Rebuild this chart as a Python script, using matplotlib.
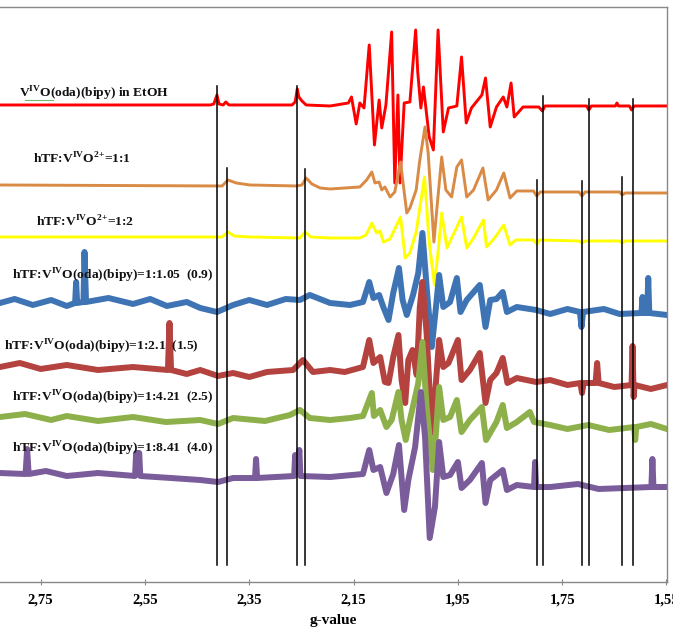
import matplotlib
matplotlib.use("Agg")
import matplotlib.pyplot as plt

plt.rcParams["font.family"] = ["Liberation Serif", "DejaVu Serif"]
plt.rcParams["mathtext.fontset"] = "custom"
plt.rcParams["mathtext.rm"] = "Liberation Serif:bold"
plt.rcParams["mathtext.bf"] = "Liberation Serif:bold"

# EPR spectra, (g-value, intensity a.u.)
red = [(2.828, 477), (2.425, 477), (2.418, 478), (2.412, 487), (2.408, 478), (2.400, 477),
       (2.395, 480), (2.389, 477), (2.268, 477), (2.262, 480), (2.258, 493), (2.255, 485),
       (2.249, 481), (2.241, 477), (2.195, 476), (2.160, 479), (2.154, 485), (2.145, 458),
       (2.138, 479), (2.130, 474), (2.120, 537), (2.110, 437), (2.101, 482), (2.096, 454),
       (2.088, 477), (2.077, 550), (2.071, 399), (2.065, 487), (2.061, 399), (2.053, 479),
       (2.042, 480), (2.031, 552), (2.027, 510), (2.021, 474), (2.016, 495), (2.005, 445),
       (1.997, 432), (1.988, 552), (1.978, 450), (1.968, 474), (1.952, 476), (1.943, 525),
       (1.934, 459), (1.924, 474), (1.904, 487), (1.897, 504), (1.888, 455), (1.876, 475),
       (1.863, 485), (1.856, 475), (1.848, 499), (1.842, 465), (1.825, 475), (1.795, 475),
       (1.788, 471), (1.783, 476), (1.703, 476), (1.699, 472), (1.694, 476), (1.648, 476),
       (1.645, 479), (1.642, 476), (1.621, 476), (1.617, 472), (1.612, 476), (1.549, 476)]

orange = [(2.828, 397), (2.402, 396), (2.391, 402), (2.375, 399), (2.349, 397), (2.259, 396),
          (2.249, 397), (2.241, 404), (2.230, 398), (2.214, 394), (2.195, 393), (2.138, 395),
          (2.125, 402), (2.115, 410), (2.109, 399), (2.101, 400), (2.096, 392), (2.090, 395),
          (2.080, 385), (2.071, 390), (2.060, 420), (2.048, 369), (2.042, 374), (2.030, 392),
          (2.023, 422), (2.013, 455), (2.007, 429), (1.996, 340), (1.990, 375), (1.981, 425),
          (1.973, 392), (1.962, 385), (1.952, 415), (1.943, 422), (1.933, 385), (1.920, 392),
          (1.902, 414), (1.892, 382), (1.876, 392), (1.862, 409), (1.850, 384), (1.837, 391),
          (1.805, 391), (1.799, 386), (1.792, 390), (1.718, 390), (1.712, 386), (1.706, 390),
          (1.640, 390), (1.635, 387), (1.629, 389), (1.549, 389)]

yellow = [(2.828, 345), (2.402, 345), (2.391, 350), (2.379, 346), (2.349, 345), (2.253, 344),
          (2.243, 350), (2.232, 345), (2.195, 344), (2.138, 344), (2.126, 347), (2.115, 359),
          (2.106, 349), (2.099, 351), (2.093, 340), (2.080, 343), (2.060, 365), (2.051, 324),
          (2.042, 329), (2.030, 350), (2.014, 405), (2.005, 340), (1.995, 297), (1.988, 330),
          (1.981, 369), (1.971, 334), (1.961, 345), (1.943, 365), (1.933, 334), (1.921, 343),
          (1.901, 362), (1.895, 335), (1.881, 343), (1.862, 357), (1.850, 337), (1.839, 342),
          (1.805, 342), (1.799, 338), (1.793, 342), (1.718, 341), (1.712, 339), (1.706, 341),
          (1.640, 341), (1.635, 339), (1.629, 341), (1.549, 341)]

blue = [(2.828, 279), (2.800, 283), (2.765, 277), (2.730, 282), (2.700, 276), (2.684, 279),
        (2.682, 300), (2.680, 279), (2.668, 280), (2.666, 330), (2.663, 280), (2.620, 284),
        (2.573, 278), (2.540, 283), (2.508, 276), (2.470, 280), (2.444, 274), (2.412, 270),
        (2.381, 277), (2.350, 282), (2.316, 277), (2.280, 283), (2.253, 282), (2.234, 287),
        (2.195, 279), (2.157, 277), (2.132, 280), (2.120, 300), (2.112, 284), (2.101, 287),
        (2.093, 275), (2.083, 262), (2.074, 289), (2.063, 314), (2.056, 282), (2.048, 267),
        (2.036, 287), (2.026, 309), (2.018, 349), (2.009, 289), (2.000, 235), (1.992, 275),
        (1.986, 307), (1.978, 275), (1.965, 280), (1.952, 304), (1.945, 270), (1.933, 282),
        (1.908, 297), (1.897, 255), (1.888, 282), (1.876, 283), (1.864, 290), (1.856, 270),
        (1.837, 275), (1.800, 272), (1.773, 268), (1.740, 273), (1.716, 270), (1.713, 255),
        (1.710, 270), (1.670, 273), (1.640, 268), (1.598, 269), (1.596, 285), (1.594, 269),
        (1.587, 269), (1.585, 304), (1.583, 269), (1.549, 267)]

brown = [(2.828, 215), (2.790, 219), (2.750, 213), (2.700, 217), (2.640, 212), (2.573, 215),
         (2.506, 212), (2.503, 259), (2.500, 212), (2.470, 208), (2.444, 212), (2.410, 206),
         (2.381, 209), (2.350, 205), (2.316, 210), (2.266, 212), (2.247, 222), (2.228, 210),
         (2.195, 212), (2.167, 210), (2.132, 215), (2.120, 242), (2.112, 219), (2.099, 225),
         (2.090, 200), (2.083, 199), (2.074, 225), (2.064, 247), (2.058, 202), (2.051, 179),
         (2.045, 222), (2.037, 232), (2.029, 207), (2.023, 275), (2.018, 300), (2.010, 249),
         (2.000, 149), (1.994, 186), (1.986, 242), (1.978, 215), (1.968, 219), (1.950, 242),
         (1.943, 202), (1.927, 212), (1.908, 229), (1.897, 179), (1.888, 202), (1.876, 209),
         (1.864, 224), (1.855, 199), (1.837, 204), (1.800, 200), (1.773, 202), (1.740, 197),
         (1.715, 199), (1.712, 189), (1.709, 199), (1.686, 199), (1.683, 219), (1.680, 199),
         (1.650, 195), (1.617, 197), (1.615, 236), (1.613, 185), (1.611, 197), (1.580, 193),
         (1.549, 197)]

green = [(2.828, 165), (2.780, 168), (2.730, 162), (2.700, 166), (2.640, 161), (2.573, 165),
         (2.510, 160), (2.444, 162), (2.410, 158), (2.381, 164), (2.320, 161), (2.272, 167),
         (2.253, 172), (2.234, 164), (2.195, 162), (2.157, 164), (2.132, 166), (2.115, 189),
         (2.111, 166), (2.099, 172), (2.087, 155), (2.077, 162), (2.064, 190), (2.058, 162),
         (2.050, 142), (2.042, 162), (2.026, 199), (2.018, 240), (2.010, 175), (1.998, 112),
         (1.992, 149), (1.986, 195), (1.978, 162), (1.965, 165), (1.952, 182), (1.943, 150),
         (1.927, 162), (1.904, 175), (1.896, 142), (1.876, 160), (1.864, 177), (1.856, 154),
         (1.837, 160), (1.812, 170), (1.804, 160), (1.773, 157), (1.740, 153), (1.700, 157),
         (1.660, 152), (1.612, 155), (1.610, 142), (1.608, 155), (1.580, 158), (1.549, 153)]

purple = [(2.828, 109), (2.779, 108), (2.776, 133), (2.773, 108), (2.740, 111), (2.700, 106),
          (2.640, 109), (2.569, 106), (2.567, 129), (2.561, 129), (2.559, 106), (2.500, 104),
          (2.444, 102), (2.410, 100), (2.381, 104), (2.339, 104), (2.337, 123), (2.335, 104),
          (2.264, 106), (2.262, 127), (2.258, 110), (2.254, 132), (2.252, 106), (2.195, 105),
          (2.132, 108), (2.120, 132), (2.112, 112), (2.099, 115), (2.087, 89), (2.074, 108),
          (2.063, 137), (2.053, 72), (2.045, 102), (2.032, 135), (2.021, 190), (2.013, 145),
          (2.004, 44), (1.994, 75), (1.986, 140), (1.978, 105), (1.965, 107), (1.950, 120),
          (1.943, 94), (1.927, 102), (1.904, 119), (1.897, 79), (1.888, 102), (1.864, 112),
          (1.856, 92), (1.837, 97), (1.804, 95), (1.802, 120), (1.800, 95), (1.773, 95),
          (1.720, 98), (1.680, 93), (1.579, 95), (1.577, 123), (1.575, 95), (1.549, 95)]

series = [red, orange, yellow, blue, brown, green, purple]
colors = ["#FF0000", "#D98A45", "#FFFF00", "#3F74B4", "#B4423F", "#8DB04B", "#7A5C9B"]
widths = [2.1, 2.1, 2.1, 4.3, 4.3, 4.3, 4.3]

labels = [r"V$^{\mathbf{IV}}$O(oda)(bipy) in EtOH",
          r"hTF:V$^{\mathbf{IV}}$O$^{\mathbf{2{+}}}$=1:1",
          r"hTF:V$^{\mathbf{IV}}$O$^{\mathbf{2{+}}}$=1:2",
          r"hTF:V$^{\mathbf{IV}}$O(oda)(bipy)=1:1.05  (0.9)",
          r"hTF:V$^{\mathbf{IV}}$O(oda)(bipy)=1:2.1  (1.5)",
          r"hTF:V$^{\mathbf{IV}}$O(oda)(bipy)=1:4.21  (2.5)",
          r"hTF:V$^{\mathbf{IV}}$O(oda)(bipy)=1:8.41  (4.0)"]
label_g = [2.792, 2.765, 2.759, 2.805, 2.820, 2.805, 2.805]
label_y = [488, 423, 360, 306, 235, 184, 133]

# black marker lines (g position, top end)
vline_g = [2.412, 2.393, 2.258, 2.243, 1.799, 1.787, 1.712, 1.698, 1.635, 1.615]
vline_top = [496, 414, 496, 413, 402, 486, 401, 483, 405, 483]
vline_bottom = 17

ticks = [2.75, 2.55, 2.35, 2.15, 1.95, 1.75, 1.55]
tick_labels = ["2,75", "2,55", "2,35", "2,15", "1,95", "1,75", "1,55"]

fig = plt.figure(figsize=(6.73, 6.34), dpi=100)
ax = fig.add_axes([0.0, 0.082, 0.9911, 0.907])

for pts, c, lw in zip(series, colors, widths):
    g = [p[0] for p in pts]
    y = [p[1] for p in pts]
    ax.plot(g, y, color=c, lw=lw, solid_joinstyle="round")

for g, top in zip(vline_g, vline_top):
    ax.plot([g, g], [vline_bottom, top], color="black", lw=1.1, zorder=5)

for txt, g, y in zip(labels, label_g, label_y):
    ax.text(g, y, txt, ha="left", va="center", fontsize=9.7, fontweight="bold",
            color="#111111", zorder=6)

# spell-check squiggle under the first label
ax.plot([2.780, 2.727], [482, 482], color="#6DBB6D", lw=0.8, zorder=6)

ax.set_xlim(2.828, 1.549)
ax.set_ylim(0, 575)
ax.set_xticks(ticks)
ax.set_xticklabels(tick_labels, fontsize=10.5, fontweight="bold")
ax.set_yticks([])
ax.tick_params(axis="x", direction="inout", length=5, color="#888888", pad=6)
for side in ["top", "right", "bottom"]:
    ax.spines[side].set_color("#888888")
    ax.spines[side].set_linewidth(1.0)
ax.spines["left"].set_visible(False)
ax.set_xlabel("g-value", fontsize=11, fontweight="bold", labelpad=5)

fig.savefig("out.png", dpi=100)
